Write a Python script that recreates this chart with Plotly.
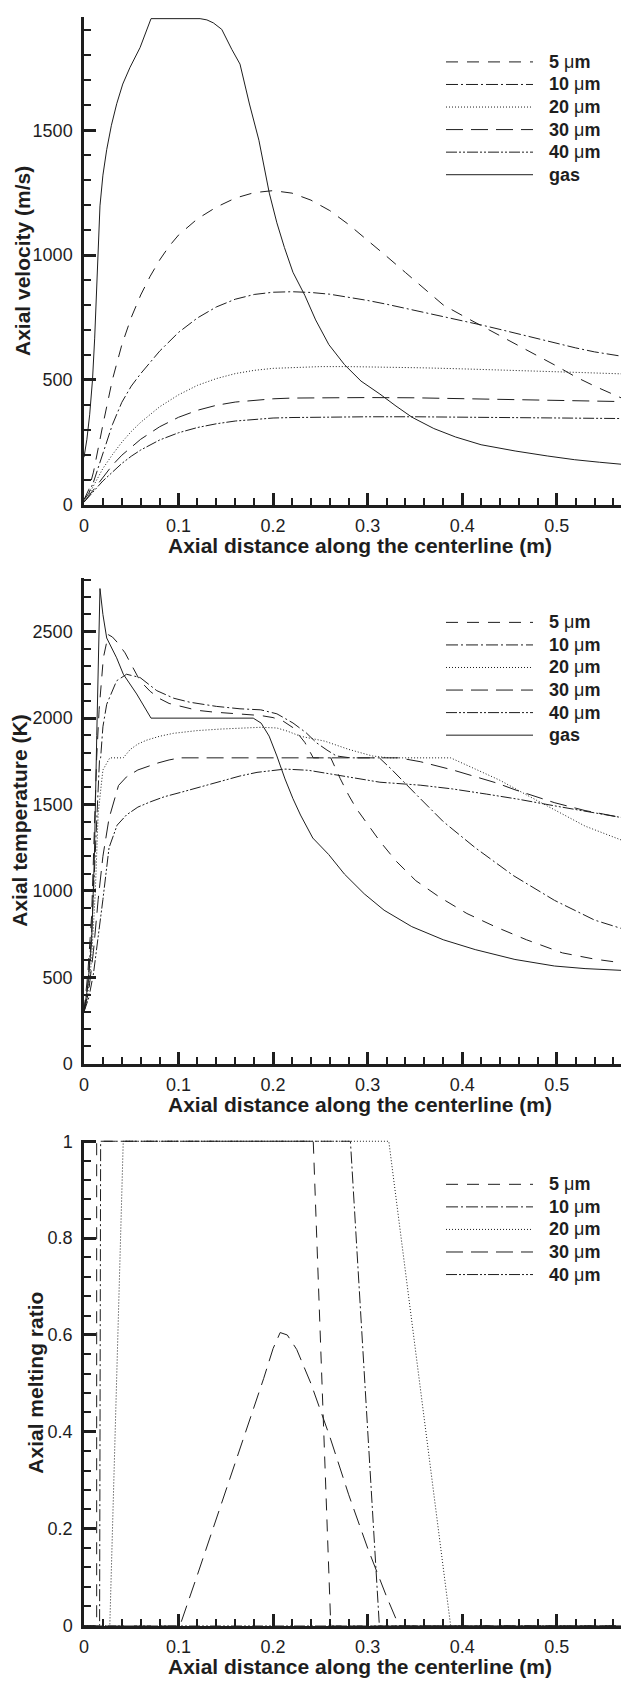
import plotly.graph_objects as go

# ---------------- data ----------------
# Panel 1: axial velocity (m/s)
vel_gas_x = [0, 0.003, 0.006, 0.009, 0.0113, 0.0135, 0.0147, 0.0169, 0.02, 0.024, 0.029, 0.0346, 0.041, 0.0487,
             0.0593, 0.0709, 0.1228, 0.13, 0.1368, 0.1457, 0.1563, 0.165, 0.175, 0.185, 0.196, 0.204, 0.212, 0.221,
             0.2335, 0.245, 0.259, 0.2755, 0.293, 0.313, 0.33, 0.347, 0.37, 0.393, 0.42, 0.456, 0.49, 0.519, 0.545, 0.568]
vel_gas_y = [190, 260, 360, 500, 667, 880, 997, 1197, 1320, 1422, 1520, 1606, 1685, 1752,
             1831, 1947, 1947, 1942, 1930, 1904, 1824, 1765, 1605, 1460, 1248, 1129, 1030, 931,
             839, 740, 641, 561, 495, 443, 395, 350, 305, 271, 240, 215, 195, 180, 170, 162]

vel_5_x = [0, 0.005, 0.01, 0.015, 0.02, 0.03, 0.04, 0.05, 0.06, 0.07, 0.08, 0.09, 0.10, 0.12, 0.14, 0.16, 0.18,
           0.20, 0.22, 0.24, 0.26, 0.28, 0.30, 0.32, 0.34, 0.36, 0.38, 0.40, 0.42, 0.44, 0.46, 0.48, 0.50, 0.52,
           0.54, 0.568]
vel_5_y = [20, 60, 130, 230, 320, 500, 640, 750, 840, 915, 980, 1035, 1080, 1145, 1192, 1228, 1250,
           1258, 1248, 1220, 1178, 1122, 1060, 995, 930, 865, 800, 758, 718, 678, 638, 598, 555, 512,
           475, 428]

vel_10_x = [0, 0.005, 0.01, 0.015, 0.02, 0.03, 0.04, 0.05, 0.06, 0.07, 0.08, 0.10, 0.12, 0.14, 0.16, 0.18,
            0.20, 0.22, 0.24, 0.26, 0.28, 0.30, 0.32, 0.34, 0.36, 0.38, 0.40, 0.42, 0.44, 0.46, 0.48, 0.50,
            0.52, 0.54, 0.568]
vel_10_y = [20, 45, 90, 150, 210, 320, 410, 475, 525, 572, 615, 690, 748, 792, 823, 842,
            851, 853, 850, 843, 832, 818, 803, 787, 771, 754, 737, 720, 702, 683, 665, 646,
            628, 612, 595]

vel_20_x = [0, 0.005, 0.01, 0.015, 0.02, 0.03, 0.04, 0.05, 0.06, 0.08, 0.10, 0.12, 0.14, 0.16, 0.18, 0.20,
            0.22, 0.25, 0.28, 0.32, 0.36, 0.40, 0.44, 0.48, 0.52, 0.568]
vel_20_y = [15, 40, 75, 110, 145, 200, 250, 293, 330, 392, 440, 478, 505, 525, 538, 546,
            550, 553, 553, 551, 548, 544, 540, 535, 530, 524]

vel_3040_x = [0, 0.005, 0.01, 0.015, 0.02, 0.03, 0.04, 0.05, 0.06, 0.08, 0.10, 0.12, 0.14, 0.16, 0.18,
              0.20, 0.22, 0.24, 0.26, 0.30, 0.35, 0.40, 0.45, 0.50, 0.568]
vel_30_y = [10, 35, 62, 88, 112, 158, 198, 232, 262, 312, 350, 378, 398, 411, 419,
            424, 427, 428, 429, 429, 428, 425, 422, 418, 413]
vel_40_y = [10, 30, 52, 74, 95, 132, 165, 194, 219, 259, 288, 309, 324, 335, 342,
            347, 349, 350, 351, 352, 352, 351, 350, 348, 345]

# Panel 2: axial temperature (K)
tem_gas_x = [0, 0.004, 0.008, 0.011, 0.0135, 0.0155, 0.0169, 0.02, 0.024, 0.0345, 0.0416, 0.0557, 0.0709,
             0.179, 0.1874, 0.1958, 0.204, 0.2126, 0.221, 0.229, 0.242, 0.2587, 0.2755, 0.2964, 0.3174,
             0.3467, 0.38, 0.4138, 0.4558, 0.4977, 0.53, 0.568]
tem_gas_y = [300, 450, 700, 1200, 1900, 2500, 2750, 2600, 2464, 2349, 2254, 2140, 2000,
             2000, 1971, 1896, 1781, 1648, 1534, 1439, 1306, 1211, 1097, 983, 888,
             793, 717, 660, 603, 565, 550, 540]

tem_5_x = [0, 0.004, 0.008, 0.0115, 0.0134, 0.016, 0.0205, 0.0257, 0.03, 0.035, 0.0434, 0.05, 0.0593, 0.07,
           0.08, 0.09, 0.105, 0.12, 0.137, 0.165, 0.187, 0.2, 0.21, 0.221, 0.2335, 0.2425, 0.261, 0.271, 0.28,
           0.288, 0.296, 0.313, 0.33, 0.351, 0.376, 0.405, 0.4348, 0.468, 0.506, 0.54, 0.568]
tem_5_y = [300, 520, 850, 1400, 1770, 2050, 2350, 2483, 2470, 2440, 2378, 2310, 2216, 2155,
           2113, 2085, 2063, 2045, 2035, 2022, 2015, 2003, 1985, 1945, 1860, 1770, 1770, 1650, 1553,
           1477, 1415, 1287, 1173, 1059, 964, 869, 793, 717, 641, 605, 584]

tem_10_x = [0, 0.004, 0.008, 0.012, 0.0165, 0.0176, 0.02, 0.024, 0.0345, 0.045, 0.0593, 0.077, 0.095, 0.112,
            0.14, 0.165, 0.187, 0.204, 0.221, 0.235, 0.246, 0.257, 0.267, 0.2818, 0.3124, 0.325, 0.338, 0.351,
            0.38, 0.414, 0.454, 0.4977, 0.54, 0.568]
tem_10_y = [300, 450, 750, 1200, 1770, 1770, 1950, 2080, 2216, 2254, 2235, 2159, 2115, 2092,
            2068, 2054, 2048, 2025, 1972, 1915, 1857, 1815, 1781, 1770, 1770, 1705, 1635, 1560,
            1401, 1249, 1089, 945, 831, 783]

tem_20_x = [0, 0.004, 0.008, 0.012, 0.015, 0.02, 0.0273, 0.0415, 0.049, 0.057, 0.066, 0.08, 0.0945, 0.12,
            0.1455, 0.165, 0.187, 0.204, 0.215, 0.229, 0.2545, 0.28, 0.305, 0.3224, 0.3878, 0.414, 0.44,
            0.47, 0.5, 0.53, 0.568]
tem_20_y = [300, 400, 600, 1000, 1450, 1700, 1770, 1770, 1819, 1850, 1872, 1895, 1912, 1928,
            1937, 1942, 1947, 1943, 1925, 1895, 1867, 1819, 1781, 1770, 1770, 1705, 1640,
            1550, 1460, 1375, 1295]

tem_30_x = [0, 0.005, 0.01, 0.015, 0.02, 0.0265, 0.0365, 0.045, 0.057, 0.078, 0.09, 0.1015, 0.333, 0.3556,
            0.39, 0.414, 0.4367, 0.456, 0.498, 0.53, 0.568]
tem_30_y = [300, 420, 650, 950, 1200, 1420, 1610, 1660, 1700, 1740, 1758, 1770, 1770, 1748,
            1700, 1660, 1624, 1585, 1510, 1465, 1425]

tem_40_x = [0, 0.005, 0.01, 0.015, 0.02, 0.0265, 0.035, 0.045, 0.057, 0.07, 0.085, 0.1035, 0.125, 0.1455,
            0.165, 0.183, 0.2, 0.2126, 0.2375, 0.271, 0.313, 0.3556, 0.39, 0.426, 0.46, 0.5, 0.53, 0.568]
tem_40_y = [300, 380, 520, 720, 950, 1250, 1380, 1440, 1485, 1515, 1545, 1572, 1605, 1639,
            1665, 1686, 1698, 1705, 1698, 1667, 1629, 1612, 1590, 1560, 1530, 1490, 1460, 1425]

# Panel 3: axial melting ratio
mr_5_x = [0, 0.0134, 0.0134, 0.2425, 0.261, 0.568]
mr_5_y = [0, 0, 1, 1, 0, 0]
mr_10_x = [0, 0.0165, 0.0176, 0.2818, 0.3124, 0.568]
mr_10_y = [0, 0, 1, 1, 0, 0]
mr_20_x = [0, 0.0273, 0.0415, 0.3224, 0.3878, 0.568]
mr_20_y = [0, 0, 1, 1, 0, 0]
mr_30_x = [0, 0.1015, 0.12, 0.14, 0.16, 0.18, 0.19, 0.20, 0.2075, 0.215, 0.225, 0.24, 0.26, 0.28, 0.30,
           0.32, 0.333, 0.568]
mr_30_y = [0, 0, 0.105, 0.22, 0.335, 0.45, 0.51, 0.572, 0.605, 0.6, 0.57, 0.5, 0.39, 0.27, 0.16,
           0.06, 0, 0]
mr_40_x = [0, 0.568]
mr_40_y = [0, 0]

series_names = ["5 μm", "10 μm", "20 μm", "30 μm", "40 μm", "gas"]
x_ticks = [0, 0.1, 0.2, 0.3, 0.4, 0.5]

# ---------------- styling ----------------
W, H = 621, 1688
ML = 84
INK = "#1e1e1e"
FONT = "Liberation Sans, Arial, Helvetica, sans-serif"
DASH = {"5 μm": "12px,9px", "10 μm": "12px,3px,2px,3px", "20 μm": "1px,2px",
        "30 μm": "17px,8px", "40 μm": "11px,2px,2px,2px,2px,2px", "gas": "solid"}

def px_x(X):
    return (X - ML) / (W - ML)

def px_y(Yp):
    return 1 - Yp / H

# panel pixel extents (top, bottom)
P = [(9.5, 502.0), (576.0, 1067.0), (1144.0, 1635.0)]
YR = [[0, 1952], [0, 2812], [0, 1.003]]
XR = [0, 0.568]

fig = go.Figure()

panels = [
    [(vel_5_x, vel_5_y, "5 μm"), (vel_10_x, vel_10_y, "10 μm"), (vel_20_x, vel_20_y, "20 μm"),
     (vel_3040_x, vel_30_y, "30 μm"), (vel_3040_x, vel_40_y, "40 μm"), (vel_gas_x, vel_gas_y, "gas")],
    [(tem_5_x, tem_5_y, "5 μm"), (tem_10_x, tem_10_y, "10 μm"), (tem_20_x, tem_20_y, "20 μm"),
     (tem_30_x, tem_30_y, "30 μm"), (tem_40_x, tem_40_y, "40 μm"), (tem_gas_x, tem_gas_y, "gas")],
    [(mr_5_x, mr_5_y, "5 μm"), (mr_10_x, mr_10_y, "10 μm"), (mr_20_x, mr_20_y, "20 μm"),
     (mr_30_x, mr_30_y, "30 μm"), (mr_40_x, mr_40_y, "40 μm")],
]

for i, traces in enumerate(panels):
    sfx = "" if i == 0 else str(i + 1)
    for xs, ys, name in traces:
        fig.add_trace(go.Scatter(x=xs, y=ys, mode="lines", name=name, showlegend=False,
                                 line=dict(color=INK, width=1, dash=DASH[name]),
                                 xaxis="x" + sfx, yaxis="y" + sfx))

ytitles = ["Axial velocity (m/s)", "Axial temperature (K)", "Axial melting ratio"]
ydt = [500, 500, 0.2]
ymin = [100, 100, 0.04]
ytitle_x = [22, 20, 36]

layout = dict(width=W, height=H, margin=dict(l=ML, r=0, t=0, b=0),
              paper_bgcolor="white", plot_bgcolor="white",
              font=dict(family=FONT, color=INK), showlegend=False)

annotations = []
shapes = []
for i in range(3):
    sfx = "" if i == 0 else str(i + 1)
    top, bot = P[i]
    layout["xaxis" + sfx] = dict(
        domain=[0, 1], range=XR, anchor="y" + sfx, showgrid=False, zeroline=False,
        showline=True, linewidth=2.5, linecolor=INK, tickmode="array", tickvals=x_ticks,
        ticks="inside", ticklen=12, tickwidth=2.5, tickcolor=INK,
        tickfont=dict(size=18, family=FONT, color=INK), ticklabelstandoff=3,
        minor=dict(dtick=0.02, tick0=0, ticks="inside", ticklen=7, tickwidth=1.5, tickcolor=INK),
    )
    layout["yaxis" + sfx] = dict(
        domain=[px_y(bot), px_y(top)], range=YR[i], anchor="x" + sfx, showgrid=False, zeroline=False,
        showline=True, linewidth=2.5, linecolor=INK, dtick=ydt[i], tick0=0,
        ticks="inside", ticklen=12, tickwidth=2.5, tickcolor=INK,
        tickfont=dict(size=18, family=FONT, color=INK), ticklabelstandoff=5,
        minor=dict(dtick=ymin[i], tick0=0, ticks="inside", ticklen=7, tickwidth=1.5, tickcolor=INK),
    )
    # axis titles
    annotations.append(dict(text="<b>Axial distance along the centerline (m)</b>", xref="paper", yref="paper",
                            x=px_x(360), y=px_y(bot + 41), xanchor="center", yanchor="middle",
                            showarrow=False, font=dict(size=21, family=FONT, color=INK)))
    annotations.append(dict(text="<b>%s</b>" % ytitles[i], xref="paper", yref="paper",
                            x=px_x(ytitle_x[i]), y=px_y((top + bot) / 2), xanchor="center", yanchor="middle",
                            textangle=-90, showarrow=False, font=dict(size=21, family=FONT, color=INK)))
    # legend
    names = [t[2] for t in panels[i]]
    for k, name in enumerate(names):
        yy = top + 45 + k * 22.8
        shapes.append(dict(type="line", xref="paper", yref="paper", x0=px_x(446), x1=px_x(533),
                           y0=px_y(yy), y1=px_y(yy), line=dict(color=INK, width=1, dash=DASH[name])))
        if name == "gas":
            label = "<b>gas</b>"
        else:
            num = name.split(" ")[0]
            label = "<b>%s </b>μ<b>m</b>" % num
        annotations.append(dict(text=label, xref="paper", yref="paper", x=px_x(547), y=px_y(yy),
                                xanchor="left", yanchor="middle", showarrow=False,
                                font=dict(size=18, family=FONT, color=INK)))

layout["annotations"] = annotations
layout["shapes"] = shapes
fig.update_layout(**layout)

fig.write_html("out.html")
